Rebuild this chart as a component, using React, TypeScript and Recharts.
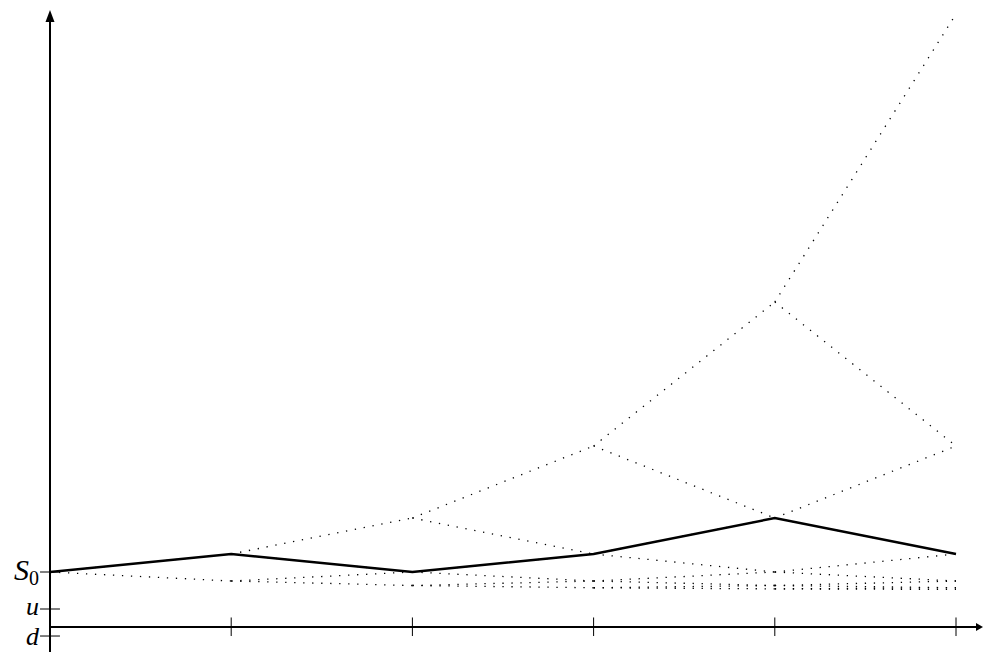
import React from 'react';
import { ComposedChart, Line, XAxis, YAxis, ReferenceLine, ReferenceDot } from 'recharts';

// time steps and the binomial tree levels (top node first)
const steps = [0, 1, 2, 3, 4, 5];
const level0 = [1];
const level1 = [2, 0.5];
const level2 = [4, 1, 0.25];
const level3 = [8, 2, 0.5, 0.125];
const level4 = [16, 4, 1, 0.25, 0.0625];
const level5 = [32, 8, 2, 0.5, 0.125, 0.03125];
const treeLevels = [level0, level1, level2, level3, level4, level5];

// the highlighted path
const pathValues = [1, 2, 1, 2, 4, 2];

// y-axis marks (label baseline offset in px)
const yMarks = [
    { v: 1, label: 'S', sub: '0', dy: 8 },
    { v: -1.056, label: 'u', sub: '', dy: 6 },
    { v: -2.556, label: 'd', sub: '', dy: 9 },
];
const xAxisLevel = -2.056;

const yMin = -3.444;
const yMax = 32.222;
const xMax = 5.1545;

const pathData = steps.map((t, i) => ({ t, v: pathValues[i] }));

const edges: { t: number; a: number; b: number }[] = [];
treeLevels.forEach((level, i) => {
    if (i === treeLevels.length - 1) return;
    const next = treeLevels[i + 1];
    level.forEach((val, j) => {
        edges.push({ t: i, a: val, b: next[j] });
        edges.push({ t: i, a: val, b: next[j + 1] });
    });
});

const mathFont = '"Liberation Serif", "DejaVu Serif", serif';

const App: React.FC = () => {
    return (
        <div style={{ position: 'absolute', left: 0, top: 0, width: 984, height: 652, background: '#fff' }}>
            <ComposedChart
                width={984}
                height={652}
                data={pathData}
                margin={{ top: 10, right: 0, bottom: 0, left: 50 }}
            >
                <XAxis dataKey="t" type="number" domain={[0, xMax]} allowDataOverflow hide />
                <YAxis type="number" domain={[yMin, yMax]} allowDataOverflow hide />

                {/* axes */}
                <ReferenceLine
                    segment={[{ x: 0, y: yMin }, { x: 0, y: 31.6 }]}
                    stroke="#000"
                    strokeWidth={2}
                    ifOverflow="visible"
                />
                <ReferenceLine
                    segment={[{ x: 0, y: xAxisLevel }, { x: 5.12, y: xAxisLevel }]}
                    stroke="#000"
                    strokeWidth={2}
                    ifOverflow="visible"
                />
                <ReferenceDot
                    x={0}
                    y={yMax}
                    ifOverflow="visible"
                    shape={(p: any) => (
                        <polygon points={`${p.cx},${p.cy} ${p.cx - 4.5},${p.cy + 12} ${p.cx + 4.5},${p.cy + 12}`} fill="#000" />
                    )}
                />
                <ReferenceDot
                    x={5.149}
                    y={xAxisLevel}
                    ifOverflow="visible"
                    shape={(p: any) => (
                        <polygon points={`${p.cx},${p.cy} ${p.cx - 7},${p.cy - 4} ${p.cx - 7},${p.cy + 4}`} fill="#000" />
                    )}
                />

                {/* x ticks */}
                {steps.slice(1).map(t => (
                    <ReferenceLine
                        key={'xt' + t}
                        segment={[{ x: t, y: xAxisLevel + 0.53 }, { x: t, y: xAxisLevel - 0.5 }]}
                        stroke="#000"
                        strokeWidth={1}
                        ifOverflow="visible"
                    />
                ))}

                {/* y ticks and labels */}
                {yMarks.map(m => (
                    <ReferenceLine
                        key={'yt' + m.label}
                        segment={[{ x: -0.055, y: m.v }, { x: 0.055, y: m.v }]}
                        stroke="#000"
                        strokeWidth={1}
                        ifOverflow="visible"
                    />
                ))}
                {yMarks.map(m => (
                    <ReferenceDot
                        key={'yl' + m.label}
                        x={0}
                        y={m.v}
                        ifOverflow="visible"
                        shape={(p: any) => (
                            <text
                                x={p.cx - 11}
                                y={p.cy + m.dy}
                                textAnchor="end"
                                fontFamily={mathFont}
                                fontStyle="italic"
                                fontSize={m.sub ? 30 : 26}
                                fill="#000"
                            >
                                {m.label}
                                {m.sub && (
                                    <tspan fontStyle="normal" fontSize={20} dy={5}>
                                        {m.sub}
                                    </tspan>
                                )}
                            </text>
                        )}
                    />
                ))}

                {/* tree edges */}
                {edges.map((e, i) => (
                    <Line
                        key={'e' + i}
                        data={[{ t: e.t, v: e.a }, { t: e.t + 1, v: e.b }]}
                        dataKey="v"
                        type="linear"
                        stroke="#000"
                        strokeWidth={1.3}
                        strokeDasharray="1.3 7.7"
                        dot={false}
                        activeDot={false}
                        isAnimationActive={false}
                    />
                ))}

                {/* highlighted path */}
                <Line
                    dataKey="v"
                    type="linear"
                    stroke="#000"
                    strokeWidth={2.5}
                    dot={false}
                    activeDot={false}
                    isAnimationActive={false}
                />
            </ComposedChart>
        </div>
    );
};

export default App;
